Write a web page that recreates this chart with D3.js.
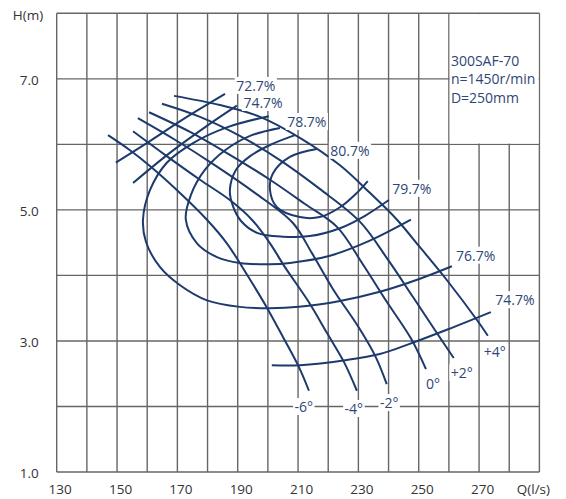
<!DOCTYPE html>
<html>
<head>
<meta charset="utf-8">
<script src="https://cdn.jsdelivr.net/npm/d3@7/dist/d3.min.js"></script>
<style>
    body { margin: 0; background: #fff; }
    text { font-family: "Open Sans", sans-serif; }
</style>
</head>
<body>
<svg id="chart" width="566" height="499"></svg>
<script>
/* ------------------------- DATA ------------------------- */

// blade angle H-Q curves
const bladeNames = ["-6°", "-4°", "-2°", "0°", "+2°", "+4°"]
const bladeQ = [
    [147, 154.3, 160.9, 169.9, 179.8, 186.4, 193.1, 199.4, 205, 210.3, 213.6],
    [155.3, 165.9, 177.5, 187.4, 194.7, 200.7, 205.6, 213.6, 219.6, 225.2, 229.5],
    [156.9, 169.2, 182.5, 195.7, 208.3, 214.6, 221.6, 230.2, 235.8, 239.4],
    [160.6, 174.2, 187.4, 200.7, 212.3, 222.9, 231.2, 238.8, 247.4, 252.4],
    [164.9, 177.5, 190.7, 204, 217.2, 230.5, 239.8, 248.1, 255.3, 261.6],
    [168.9, 184.1, 197.4, 210.6, 223.9, 233.8, 242.8, 250.4, 259.3, 269.3, 272.9]
]
const bladeH = [
    [6.14, 5.91, 5.67, 5.30, 4.85, 4.49, 4.01, 3.53, 3.06, 2.60, 2.24],
    [6.20, 5.84, 5.46, 5.15, 4.85, 4.49, 4.13, 3.59, 3.12, 2.68, 2.24],
    [6.40, 6.07, 5.68, 5.26, 4.80, 4.34, 3.79, 3.20, 2.75, 2.34],
    [6.49, 6.19, 5.84, 5.46, 5.09, 4.74, 4.19, 3.64, 3.04, 2.57],
    [6.62, 6.42, 6.13, 5.76, 5.32, 4.82, 4.24, 3.67, 3.17, 2.74],
    [6.74, 6.60, 6.42, 6.10, 5.68, 5.26, 4.85, 4.43, 3.93, 3.32, 3.08]
]
const bladeLabelQ = [211.9, 228.5, 240.2, 254.7, 264.3, 275.2]
const bladeLabelH = [1.99, 1.96, 2.05, 2.34, 2.51, 2.83]

// efficiency lines
const effNames = ["72.7%", "74.7%", "74.7%", "76.7%", "78.7%", "79.7%", "80.7%"]
const effQ = [
    [149.6, 160.9, 172.5, 185.8],
    [155.3, 167.5, 179.1, 189.7],
    [201.3, 210.6, 226.2, 237.1, 246.1, 259.3, 273.9],
    [200.3, 186.4, 175.2, 166.5, 160.9, 158.6, 159.6, 164.2, 170.9, 179.8, 190.7, 200.7, 210.3, 223.9, 237.1, 250.4, 261],
    [204, 194.1, 185.8, 179.1, 174.5, 172.8, 176.5, 183.1, 190.7, 200.7, 207.3, 220.6, 233.8, 247.4],
    [209, 200.7, 194.1, 189.4, 187.4, 188.4, 191.1, 196.4, 205, 213.9, 223.9, 232.2, 240.1],
    [216.2, 207.3, 201.7, 200.7, 203, 210.6, 217.2, 223.9, 229.5, 233.1]
]
const effH = [
    [5.72, 6.05, 6.40, 6.77],
    [5.41, 5.87, 6.26, 6.59],
    [2.63, 2.63, 2.71, 2.80, 2.94, 3.17, 3.44],
    [6.43, 6.26, 6.02, 5.72, 5.30, 4.85, 4.51, 4.13, 3.85, 3.62, 3.52, 3.50, 3.52, 3.61, 3.75, 3.95, 4.14],
    [6.25, 6.13, 5.91, 5.61, 5.23, 4.85, 4.49, 4.28, 4.19, 4.17, 4.19, 4.30, 4.53, 4.85],
    [6.14, 5.99, 5.82, 5.61, 5.30, 5.06, 4.83, 4.65, 4.59, 4.60, 4.72, 4.91, 5.15],
    [5.93, 5.81, 5.56, 5.30, 5.04, 4.89, 4.89, 5.04, 5.26, 5.44]
]
const effLabelQ = [196.0, 198.4, 281.9, 268.9, 212.9, 247.7, 227.2]
const effLabelH = [6.89, 6.63, 3.62, 4.30, 6.34, 5.32, 5.90]

const xTicks = [130, 150, 170, 190, 210, 230, 250, 270]
const yTicks = [1.0, 3.0, 5.0, 7.0]
const pumpInfo = ["300SAF-70", "n=1450r/min", "D=250mm"]

/* ------------------------- DRAW ------------------------- */

const svg = d3.select("#chart")
const x = d3.scaleLinear().domain([130, 290]).range([56.7, 539.4])
const y = d3.scaleLinear().domain([1, 8]).range([472, 13.3])

const gridColor = "#666"
const lineColor = "#1d3a6c"
const labelColor = "#2e4676"

// grid
let grid = svg.append("g").attr("stroke", gridColor).attr("stroke-width", 1.4)
grid.selectAll("line.v")
    .data(d3.range(130, 291, 10))
    .enter().append("line")
        .attr("x1", d => x(d)).attr("x2", d => x(d))
        .attr("y1", y(1)).attr("y2", y(8))
grid.selectAll("line.h")
    .data(d3.range(1, 8.01, 1))
    .enter().append("line")
        .attr("x1", x(130)).attr("x2", x(290))
        .attr("y1", d => y(d)).attr("y2", d => y(d))

// legend box (blank corner of the grid)
svg.append("rect")
    .attr("x", x(260) + 0.8).attr("y", y(8) + 0.8)
    .attr("width", x(290) - x(260) - 1.6).attr("height", y(6) - y(8) - 1.6)
    .attr("fill", "#fff")

svg.append("g").selectAll("text")
    .data(pumpInfo)
    .enter().append("text")
        .attr("x", x(260) + 2)
        .attr("y", (d, i) => y(7.2) + i * 18.6)
        .attr("font-size", 14)
        .attr("fill", labelColor)
        .text(d => d)

// axes
let xAxis = svg.append("g")
    .attr("transform", "translate(3," + (y(1) + 12.5) + ")")
    .call(d3.axisBottom(x).tickValues(xTicks).tickSize(0).tickPadding(0).tickFormat(d3.format("d")))
xAxis.select(".domain").remove()
xAxis.selectAll("text")
    .attr("dy", null)
    .attr("y", 9.5)
    .attr("font-size", 13.5).attr("fill", "#333").attr("font-family", "Open Sans")

svg.append("text")
    .attr("x", x(290) - 6).attr("y", y(1) + 22)
    .attr("text-anchor", "middle")
    .attr("font-size", 13.5).attr("fill", "#333")
    .text("Q(l/s)")

let yAxis = svg.append("g")
    .attr("transform", "translate(" + (x(130) - 15) + ",1)")
    .call(d3.axisLeft(y).tickValues(yTicks).tickSize(0).tickFormat(d3.format(".1f")))
yAxis.select(".domain").remove()
yAxis.selectAll("text").attr("font-size", 13.5).attr("fill", "#333").attr("font-family", "Open Sans")

svg.append("text")
    .attr("x", 28).attr("y", 20)
    .attr("text-anchor", "middle")
    .attr("font-size", 13.5).attr("fill", "#333")
    .text("H(m)")

// curves
let line = d3.line()
    .x(d => x(d[0]))
    .y(d => y(d[1]))
    .curve(d3.curveCatmullRom.alpha(0.5))

function drawCurves(qs, hs) {
    svg.append("g").selectAll("path")
        .data(qs.map((q, i) => q.map((v, j) => [v, hs[i][j]])))
        .enter().append("path")
            .attr("d", line)
            .attr("fill", "none")
            .attr("stroke", lineColor)
            .attr("stroke-width", 2)
}
drawCurves(bladeQ, bladeH)
drawCurves(effQ, effH)

// labels with white background
function drawLabels(names, qs, hs) {
    let g = svg.append("g")
    names.forEach(function (name, i) {
        let t = g.append("text")
            .attr("x", x(qs[i])).attr("y", y(hs[i]))
            .attr("dy", "0.35em")
            .attr("text-anchor", "middle")
            .attr("font-size", 14)
            .attr("fill", labelColor)
            .text(name)
        let b = t.node().getBBox()
        g.insert("rect", "text")
            .attr("x", b.x - 1.5).attr("y", b.y + 1)
            .attr("width", b.width + 3).attr("height", b.height - 2)
            .attr("fill", "#fff")
    })
}
drawLabels(effNames, effLabelQ, effLabelH)
drawLabels(bladeNames, bladeLabelQ, bladeLabelH)
</script>
</body>
</html>
